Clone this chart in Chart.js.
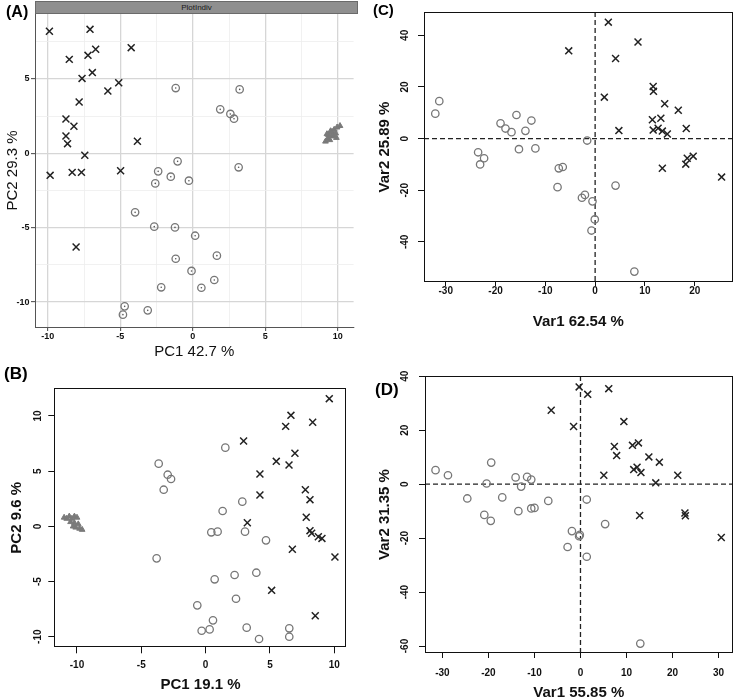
<!DOCTYPE html>
<html><head><meta charset="utf-8">
<script src="https://cdn.jsdelivr.net/npm/chart.js@4.4.0/dist/chart.umd.min.js"></script>
<style>
html,body{margin:0;padding:0;background:#fff;width:739px;height:699px;overflow:hidden;position:relative;font-family:"Liberation Sans",Arial,sans-serif}
canvas{position:absolute;display:block}
.lbl{position:absolute;font-weight:bold;color:#000;line-height:1;white-space:nowrap}
#strip{position:absolute;left:35px;top:1px;width:321px;height:11px;background:#8f8f8f;border:1px solid #6a6a6a;font-size:8px;line-height:11px;text-align:center;color:#1a1a1a}
</style></head><body>
<canvas id="cA" width="360" height="365" style="left:0;top:0"></canvas>
<canvas id="cB" width="360" height="334" style="left:0;top:365px"></canvas>
<canvas id="cC" width="379" height="340" style="left:360px;top:0"></canvas>
<canvas id="cD" width="379" height="370" style="left:360px;top:340px"></canvas>
<div id="strip">PlotIndiv</div>
<div class="lbl" style="left:6px;top:4px;font-size:16px">(A)</div>
<div class="lbl" style="left:4px;top:365px;font-size:17px">(B)</div>
<div class="lbl" style="left:373px;top:2px;font-size:15px">(C)</div>
<div class="lbl" style="left:375px;top:381px;font-size:17px">(D)</div>
<script>
// ---------------- Panel A : PC1 42.7 % / PC2 29.3 %
const A_xTicks = [-10, -5, 0, 5, 10];
const A_yTicks = [-10, -5, 0, 5];
const A_crossPC1 = [-9.89,-7.09,-6.70,-7.23,-8.52,-4.25,-7.64,-6.93,-5.11,-5.86,-7.84,-8.75,-8.20,-8.75,-8.64,-3.82,-7.45,-9.84,-8.32,-7.68,-4.98,-8.05];
const A_crossPC2 = [8.21,8.34,7.00,6.59,6.32,7.11,5.04,5.43,4.75,4.19,3.45,2.31,1.82,1.17,0.65,0.81,-0.13,-1.48,-1.28,-1.28,-1.17,-6.30];
const A_circlePC1 = [-1.18,3.23,1.89,2.59,2.84,-1.05,3.16,-2.39,-1.52,-0.27,-2.59,-3.98,-2.66,-1.23,0.16,-1.18,1.66,-0.09,-2.18,0.59,1.48,-4.70,-4.82,-3.11];
const A_circlePC2 = [4.39,4.30,2.96,2.65,2.33,-0.54,-0.94,-1.21,-1.57,-1.84,-2.02,-3.97,-4.93,-4.98,-5.54,-7.09,-6.88,-7.91,-9.01,-9.04,-8.52,-10.29,-10.85,-10.56];
const A_trianglePC1 = [9.15,9.30,9.35,9.45,9.55,9.60,9.70,9.75,9.85,9.95,10.15,9.50,9.25,9.90];
const A_trianglePC2 = [0.80,1.00,1.25,0.90,1.15,1.45,1.20,1.60,1.35,1.75,1.85,1.50,1.30,1.05];

// ---------------- Panel B : PC1 19.1 % / PC2 9.6 %
const B_xTicks = [-10, -5, 0, 5, 10];
const B_yTicks = [-10, -5, 0, 5, 10];
const B_crossPC1 = [9.61,6.63,6.22,8.32,2.95,6.94,5.49,6.48,4.22,7.75,4.22,8.11,7.82,3.24,8.11,8.24,8.76,9.04,6.74,10.05,5.13,8.52];
const B_crossPC2 = [11.57,10.06,9.06,9.43,7.73,6.62,5.89,5.56,4.74,3.32,2.84,2.42,0.82,0.33,-0.39,-0.63,-0.94,-1.09,-2.08,-2.78,-5.80,-8.10];
const B_circlePC1 = [-3.65,-2.95,-2.69,-3.26,1.53,2.85,1.32,0.44,0.93,3.06,4.69,-3.81,0.70,2.25,3.94,2.36,-0.65,0.57,3.19,-0.31,0.31,6.50,6.50,4.15];
const B_circlePC2 = [5.68,4.68,4.29,3.32,7.13,2.24,1.39,-0.54,-0.48,-0.48,-1.27,-2.90,-4.80,-4.41,-4.20,-6.56,-7.16,-8.52,-9.18,-9.46,-9.34,-9.24,-10.00,-10.21];
const B_trianglePC1 = [-11.0,-10.8,-10.6,-10.4,-10.2,-10.0,-10.5,-10.2,-9.9,-10.1,-9.8,-9.6,-10.3];
const B_trianglePC2 = [0.80,0.70,0.90,0.70,0.90,0.80,0.40,0.30,0.20,-0.10,-0.20,-0.30,0.00];

// ---------------- Panel C : Var1 62.54 % / Var2 25.89 %
const C_xTicks = [-30, -20, -10, 0, 10, 20];
const C_yTicks = [-40, -20, 0, 20, 40];
const C_crossVar1 = [2.65,8.61,-5.30,4.11,11.66,11.72,1.85,13.97,16.70,11.50,13.20,18.30,4.77,11.66,12.65,13.50,14.50,19.70,18.50,18.20,13.50,25.40];
const C_crossVar2 = [45.1,37.4,34.0,31.0,20.2,18.3,16.05,13.5,11.0,7.3,7.9,3.9,3.1,3.3,4.0,2.9,1.8,-6.8,-7.6,-9.9,-11.5,-14.9];
const C_circleVar1 = [-32.1,-31.3,-19.0,-18.0,-16.8,-15.8,-12.8,-14.0,-15.3,-12.0,-23.5,-22.3,-23.1,-1.6,-7.3,-6.5,-7.55,-2.05,-2.65,-0.53,4.1,-0.07,-0.73,7.88];
const C_circleVar2 = [9.66,14.5,5.9,3.9,2.5,9.15,7.0,3.0,-4.1,-3.8,-5.3,-7.6,-10.0,-0.75,-11.5,-11.0,-18.8,-21.8,-22.9,-24.3,-18.2,-31.3,-35.6,-51.5];

// ---------------- Panel D : Var1 55.85 % / Var2 31.35 %
const D_xTicks = [-30, -20, -10, 0, 10, 20, 30];
const D_yTicks = [-60, -40, -20, 0, 20, 40];
const D_crossVar1 = [-0.29,6.14,1.57,-6.36,9.43,-1.50,7.36,11.30,12.60,7.86,14.86,17.14,11.57,12.30,13.14,5.07,21.14,16.36,12.86,22.70,22.80,30.60];
const D_crossVar2 = [36.05,35.4,33.3,27.4,23.2,21.4,13.95,14.4,15.3,10.6,10.1,8.15,5.4,6.3,4.3,3.3,3.3,0.5,-11.6,-10.7,-11.7,-19.75];
const D_circleVar1 = [-31.5,-28.8,-19.4,-20.4,-24.6,-20.9,-19.5,-17.0,-14.1,-11.6,-10.7,-12.9,-13.5,-10.7,-10.0,-7.0,1.36,-1.86,-0.14,-0.30,-2.8,1.36,5.36,13.0];
const D_circleVar2 = [5.2,3.3,8.0,0.25,-5.3,-11.4,-13.6,-4.9,2.5,2.7,1.7,-0.9,-10.0,-9.0,-8.8,-6.2,-5.7,-17.4,-18.8,-19.3,-23.3,-26.9,-14.8,-59.1];

// ---------------- helpers
Chart.defaults.font.family = '"Liberation Sans", Arial, sans-serif';
const pts = (xs, ys) => xs.map((x, i) => ({x: x, y: ys[i]}));

function datasets(tx, ty, cx, cy, xx, xy, dotted) {
  const ds = [];
  if (tx.length) ds.push({data: pts(tx, ty), pointStyle: 'triangle', pointRadius: 3.3, backgroundColor: '#7a7a7a', borderColor: '#7a7a7a', borderWidth: 1});
  ds.push({data: pts(cx, cy), pointStyle: 'circle', pointRadius: 3.7, backgroundColor: 'rgba(0,0,0,0)', borderColor: '#777', borderWidth: 1.3});
  if (dotted) ds.push({data: pts(cx, cy), pointStyle: 'circle', pointRadius: 0.8, backgroundColor: '#555', borderColor: '#555', borderWidth: 0});
  ds.push({data: pts(xx, xy), pointStyle: 'crossRot', pointRadius: 4.9, borderColor: '#222', backgroundColor: '#222', borderWidth: 1.5});
  return ds;
}

const framePlugin = {
  id: 'frame',
  beforeDatasetsDraw(chart, args, opts) {
    if (!opts.zero) return;
    const {ctx, chartArea: a, scales} = chart;
    const x0 = scales.x.getPixelForValue(0), y0 = scales.y.getPixelForValue(0);
    ctx.save();
    ctx.setLineDash([5, 3]); ctx.lineWidth = 1.3; ctx.strokeStyle = '#222';
    ctx.beginPath();
    ctx.moveTo(x0, a.top); ctx.lineTo(x0, a.bottom);
    ctx.moveTo(a.left, y0); ctx.lineTo(a.right, y0);
    ctx.stroke();
    ctx.restore();
  },
  afterDatasetsDraw(chart, args, opts) {
    if (!opts.box) return;
    const {ctx, chartArea: a} = chart;
    ctx.save();
    ctx.strokeStyle = '#111'; ctx.lineWidth = 1;
    ctx.strokeRect(Math.round(a.left) + 0.5, Math.round(a.top) + 0.5, Math.round(a.width) - 1, Math.round(a.height) - 1);
    ctx.restore();
  }
};

// R (base graphics) style axis
function rScale(axis, o) {
  const horiz = axis === 'x';
  return {
    type: 'linear', position: horiz ? 'bottom' : 'left', min: o.min, max: o.max,
    afterBuildTicks: s => { s.ticks = o.ticks.map(v => ({value: v})); },
    afterFit: s => { if (horiz) s.height = o.size; else s.width = o.size; },
    grid: {display: true, drawOnChartArea: false, drawTicks: true, tickLength: o.tl, tickColor: '#111', tickWidth: 1},
    border: {display: false},
    ticks: horiz
      ? {padding: o.pad, color: '#111', font: {size: 10, weight: 'bold'}, maxRotation: 0, minRotation: 0, callback: v => String(v)}
      : {padding: o.pad, color: '#111', font: {size: 10, weight: 'bold'}, minRotation: 90, maxRotation: 90, crossAlign: 'center', callback: v => String(v)},
    title: {display: true, text: o.title, color: '#111', font: {size: 15, weight: 'bold'}, padding: horiz ? {top: 0, bottom: o.tpad} : {top: o.tpad, bottom: 0}}
  };
}

// ggplot style axis with minor grid
function ggScale(axis, o) {
  const horiz = axis === 'x';
  const minors = o.major.map(v => v + 2.5).concat([o.major[0] - 2.5]).filter(v => v > o.min && v < o.max);
  const all = o.major.concat(minors).sort((a, b) => a - b);
  const isMajor = v => o.major.indexOf(v) >= 0;
  return {
    type: 'linear', position: horiz ? 'bottom' : 'left', min: o.min, max: o.max,
    afterBuildTicks: s => { s.ticks = all.map(v => ({value: v})); },
    afterFit: s => { if (horiz) s.height = o.size; else s.width = o.size; },
    grid: {
      display: true, drawOnChartArea: true, drawTicks: true, tickLength: 4, tickWidth: 1,
      color: c => (c.tick && isMajor(c.tick.value)) ? '#d6d6d6' : '#eeeeee',
      lineWidth: c => (c.tick && isMajor(c.tick.value)) ? 1.3 : 0.8,
      tickColor: c => (c.tick && isMajor(c.tick.value)) ? '#444' : 'rgba(0,0,0,0)'
    },
    border: {display: true, color: '#555', width: 1},
    ticks: {padding: o.pad, color: '#111', font: {size: 9, weight: 'bold'}, maxRotation: 0, minRotation: 0, callback: v => isMajor(v) ? String(v) : ''},
    title: {display: true, text: o.title, color: '#111', font: {size: 15}, padding: horiz ? {top: 0, bottom: o.tpad} : {top: o.tpad, bottom: 0}}
  };
}

function makeChart(id, ds, xs, ys, pad, plug) {
  return new Chart(document.getElementById(id), {
    type: 'scatter',
    data: {datasets: ds},
    options: {
      responsive: false, animation: false, devicePixelRatio: 1, events: [],
      layout: {padding: pad},
      scales: {x: xs, y: ys},
      plugins: {legend: {display: false}, tooltip: {enabled: false}, frame: plug}
    },
    plugins: [framePlugin]
  });
}

// Panel A
makeChart('cA',
  datasets(A_trianglePC1, A_trianglePC2, A_circlePC1, A_circlePC2, A_crossPC1, A_crossPC2, true),
  ggScale('x', {min: -10.884, max: 11.088, major: A_xTicks, size: 38, pad: 0.6, title: 'PC1 42.7 %', tpad: 4}),
  ggScale('y', {min: -11.68, max: 9.372, major: A_yTicks, size: 35, pad: 1.5, title: 'PC2 29.3 %', tpad: 3.5}),
  {top: 14, right: 2, left: 0, bottom: 0}, {box: false, zero: false});

// Panel B
makeChart('cB',
  datasets(B_trianglePC1, B_trianglePC2, B_circlePC1, B_circlePC2, B_crossPC1, B_crossPC2, false),
  rScale('x', {min: -11.764, max: 10.964, ticks: B_xTicks, size: 51.7, tl: 6, pad: 5.7, title: 'PC1 19.1 %', tpad: 5}),
  rScale('y', {min: -10.96, max: 12.51, ticks: B_yTicks, size: 54.3, tl: 6, pad: 3.1, title: 'PC2 9.6 %', tpad: 8}),
  {top: 23.3, right: 13.3, left: 0, bottom: 0}, {box: true, zero: false});

// Panel C
makeChart('cC',
  datasets([], [], C_circleVar1, C_circleVar2, C_crossVar1, C_crossVar2, false),
  rScale('x', {min: -34.37, max: 27.61, ticks: C_xTicks, size: 58, tl: 4, pad: -1.2, title: 'Var1 62.54 %', tpad: 9.3}),
  rScale('y', {min: -55.53, max: 49.03, ticks: C_yTicks, size: 64, tl: 6, pad: 6, title: 'Var2 25.89 %', tpad: 16}),
  {top: 4, right: 3, left: 0, bottom: 0}, {box: true, zero: true});

// Panel D
makeChart('cD',
  datasets([], [], D_circleVar1, D_circleVar2, D_crossVar1, D_crossVar2, false),
  rScale('x', {min: -33.79, max: 33.06, ticks: D_xTicks, size: 57, tl: 5, pad: 9, title: 'Var1 55.85 %', tpad: 8.5}),
  rScale('y', {min: -62.59, max: 40.1, ticks: D_yTicks, size: 65, tl: 6, pad: 7, title: 'Var2 31.35 %', tpad: 16}),
  {top: 36, right: 2, left: 0, bottom: 0}, {box: true, zero: true});
</script>
</body></html>
